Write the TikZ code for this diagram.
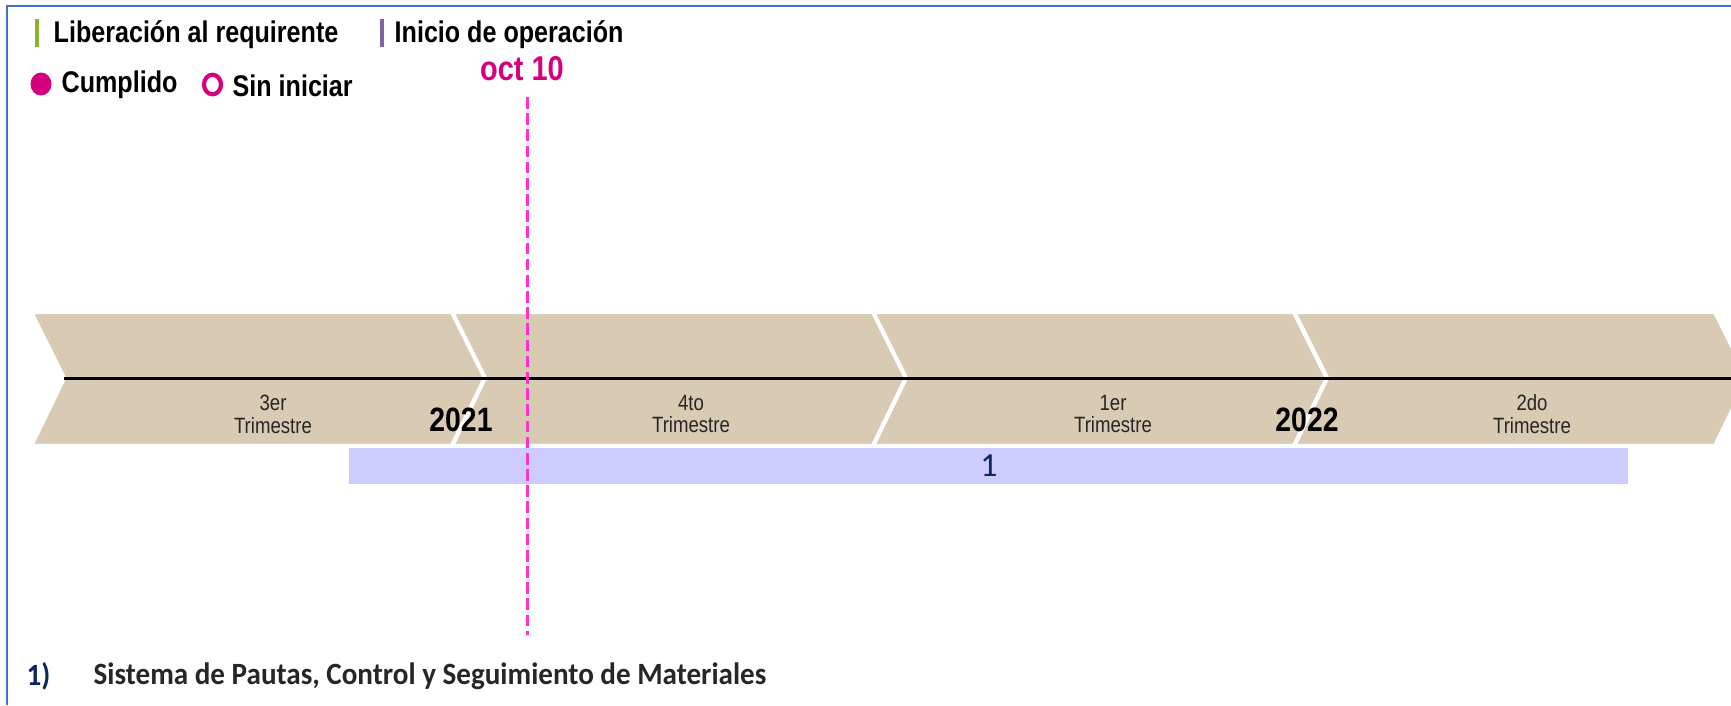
\documentclass[tikz,border=0pt]{standalone}
\usepackage{fontspec}
\setmainfont{Liberation Sans}
\newfontfamily\narrowfont[FakeStretch=0.84]{Liberation Sans}
\newfontfamily\calibfont{Carlito}
\newfontfamily\calibnarrow[FakeStretch=0.94]{Carlito}

\definecolor{frameblue}{RGB}{68,114,196}
\definecolor{chevtan}{RGB}{217,202,179}
\definecolor{barlav}{RGB}{204,204,255}
\definecolor{libgreen}{RGB}{139,180,45}
\definecolor{opviolet}{RGB}{128,100,162}
\definecolor{cumpmag}{RGB}{214,0,127}
\definecolor{todaypink}{RGB}{255,51,204}
\definecolor{itemnavy}{RGB}{16,38,96}

\begin{document}
\begin{tikzpicture}[x=0.01cm, y=-0.01cm,
legend/.style={anchor=west, inner sep=0pt, font=\narrowfont\bfseries\fontsize{8.5}{9}\selectfont},
legbar/.style={line width=1.1pt},
quarter/.style={align=center, inner sep=0pt, text=black!85, font=\narrowfont\fontsize{6.3}{6.5}\selectfont},
year/.style={inner sep=0pt, font=\narrowfont\bfseries\fontsize{9.6}{10}\selectfont},
chevron/.style={fill=chevtan, draw=white, line width=1.2pt, line join=miter},
todayline/.style={todaypink, line width=0.85pt, dash pattern=on 3.3pt off 1.3pt},
item/.style={anchor=west, inner sep=0pt, font=\calibnarrow\bfseries\fontsize{8.8}{10}\selectfont},
]
\useasboundingbox (0,0) rectangle (1731,705);

% frame
\draw[frameblue, line width=0.6pt] (7,705) -- (7,6) -- (1731,6);

% legend
\draw[legbar, libgreen] (37,19) -- (37,47);
\node[legend] (lib) at (53,35) {Liberación al requirente};
\draw[legbar, opviolet] (382,19) -- (382,47);
\node[legend] (ini) at (394,35) {Inicio de operación};
\fill[cumpmag] (41,84) ellipse [x radius=10.5, y radius=11.5];
\node[legend] (cump) at (61,85) {Cumplido};
\draw[cumpmag, line width=1.2pt] (212.5,84.5) ellipse [x radius=8.5, y radius=9.8];
\node[legend] (sinini) at (232,86) {Sin iniciar};

% quarters
\foreach \k in {0,...,3} {
  \pgfmathsetmacro{\xa}{31+421*\k}
  \draw[chevron] (\xa,312) -- ++(421,0) -- ++(33,66) -- ++(-33,68)
    -- ++(-421,0) -- ++(33,-68) -- cycle;
}
\draw[black, line width=0.85pt] (64,378) -- (1731,378);

\node[quarter] (q3) at (273,414) {3er\\Trimestre};
\node[quarter] (q4) at (691,414) {4to\\Trimestre};
\node[quarter] (q1) at (1113,414) {1er\\Trimestre};
\node[quarter] (q2) at (1532,414) {2do\\Trimestre};
\node[year] (y21) at (461,420) {2021};
\node[year] (y22) at (1307,420) {2022};

% project bar
\fill[barlav] (349,448) rectangle (1628,484);
\node[inner sep=0pt, text=itemnavy, font=\calibfont\fontsize{9.6}{10}\selectfont] (bar1) at (989,466) {1};

% today
\node[inner sep=0pt, text=cumpmag, font=\narrowfont\bfseries\fontsize{9.8}{10}\selectfont] (oct) at (522,69) {oct 10};
\coordinate (todaytop) at (527,97);
\coordinate (todaybot) at (527,635);
\draw[todayline] (todaytop) -- (todaybot);

% items
\node[item, text=itemnavy] (n1) at (26,676) {1)};
\node[item, text=black!85] (item1) at (93,676) {Sistema de Pautas, Control y Seguimiento de Materiales};
\end{tikzpicture}
\end{document}
